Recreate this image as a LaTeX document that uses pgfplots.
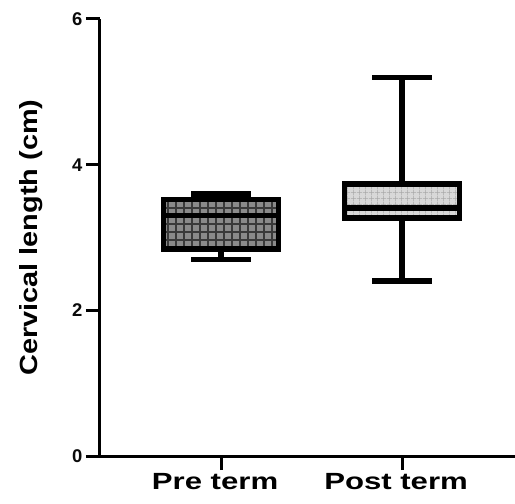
\documentclass[border=0pt]{standalone}
\usepackage{pgfplots}
\pgfplotsset{compat=1.18}
\usepgfplotslibrary{statistics}
\usetikzlibrary{patterns.meta}
\usepackage{fontspec}
\setmainfont{Liberation Sans}
\definecolor{boxdark}{HTML}{8A8A8A}
\definecolor{griddark}{HTML}{3A3A3A}
\definecolor{boxlight}{HTML}{D8D8D8}
\definecolor{gridlight}{HTML}{A8A8A8}
\definecolor{tl}{HTML}{0A0A0A}
\begin{document}
\begin{tikzpicture}
\useasboundingbox (-100bp,-48bp) rectangle (415bp,456bp);
\begin{axis}[
  scale only axis,
  width=415bp, height=437bp,
  xmin=0.331, xmax=2.624,
  ymin=0, ymax=6,
  axis x line*=bottom, axis y line*=left,
  axis line style={line width=3bp, black},
  xtick={1,2}, xticklabels={\scalebox{1.33}[1]{Pre term},\scalebox{1.33}[1]{Post term}},
  ytick={0,2,4,6}, yticklabels={0,2,4,6},
  tick align=outside,
  major tick length=14bp,
  tick style={line width=3bp, black},
  tick label style={font=\bfseries\fontsize{18.5}{20}\selectfont},
  y tick label style={font=\bfseries\fontsize{18.5}{20}\selectfont, text=tl},
  xticklabel style={font=\bfseries\fontsize{23.5}{26}\selectfont, xshift=-6bp},
  ylabel={\scalebox{1}[0.86]{Cervical length (cm)}},
  ylabel style={font=\bfseries\fontsize{29}{30}\selectfont, at={(axis description cs:-0.165,0.5)}, anchor=center},
  clip=false,
  boxplot/draw direction=y,
]
\addplot+[
  boxplot prepared={
    lower whisker=2.70, lower quartile=2.84, median=3.30,
    upper quartile=3.52, upper whisker=3.60,
    draw position=1, box extend=0.635, whisker extend=0.33},
  black, solid, line width=5.5bp, line join=miter, mark=none,
  boxplot/every box/.style={preaction={fill=boxdark}, pattern={Hatch[angle=0,distance=8bp,line width=1.4bp]}, pattern color=griddark},
] coordinates {};
\addplot+[
  boxplot prepared={
    lower whisker=2.40, lower quartile=3.27, median=3.405,
    upper quartile=3.735, upper whisker=5.20,
    draw position=2, box extend=0.635, whisker extend=0.33},
  black, solid, line width=5.5bp, line join=miter, mark=none,
  boxplot/every box/.style={preaction={fill=boxlight}, pattern={Hatch[angle=0,distance=6bp,line width=0.7bp]}, pattern color=gridlight},
] coordinates {};
\end{axis}
\end{tikzpicture}
\end{document}
